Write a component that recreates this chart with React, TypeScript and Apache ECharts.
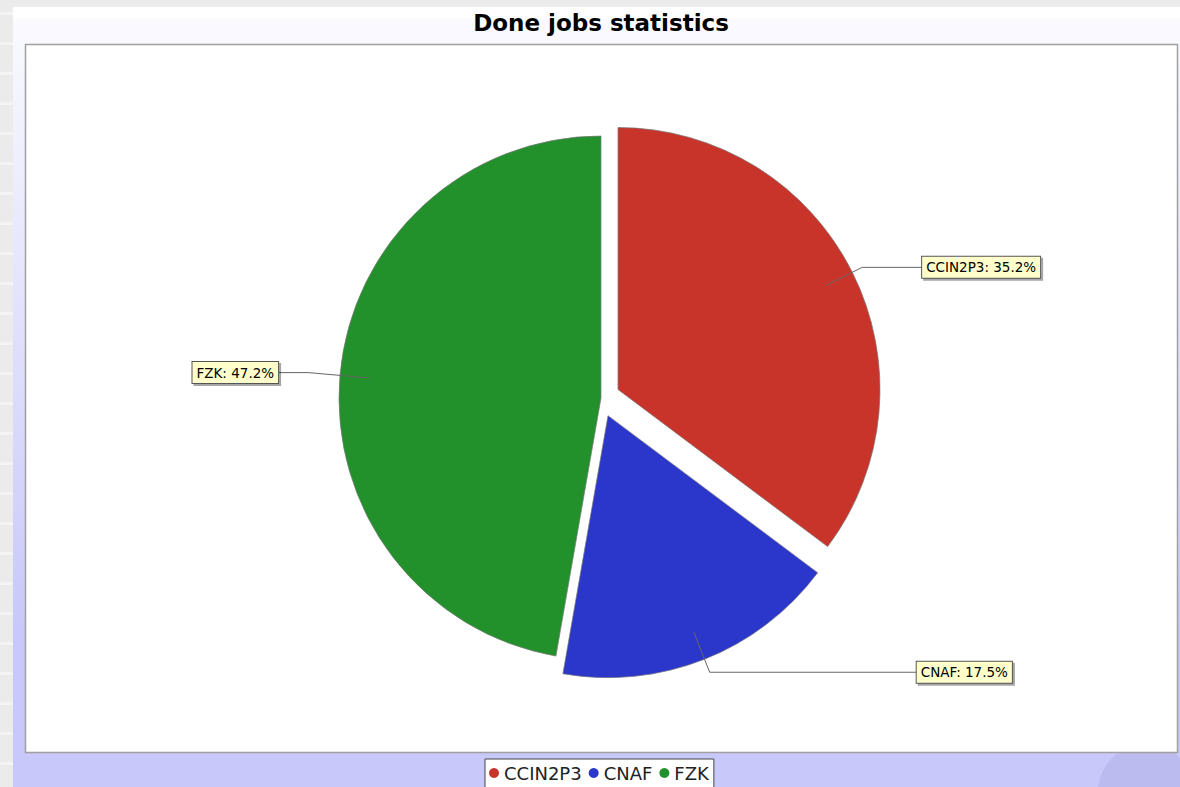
import React, { useEffect, useRef } from "react";
import * as echarts from "echarts";

// ---- data ----
const categories = ["CCIN2P3", "CNAF", "FZK"];
const shares = [35.2, 17.5, 47.2];
const explodedSlices = ["CCIN2P3", "CNAF"];
const titleText = "Done jobs statistics";

// ---- styles ----
const sliceColors = ["#c9342a", "#2b36ca", "#22912b"];
const labelLines: Record<string, { length: number; length2: number }> = {
  CCIN2P3: { length: 40, length2: 60 },
  CNAF: { length: 43, length2: 207 },
  FZK: { length: 61, length2: 30 },
};
const FONT = "DejaVu Sans";

export default function App() {
  const ref = useRef<HTMLDivElement>(null);

  useEffect(() => {
    if (!ref.current) return;
    const chart = echarts.init(ref.current, undefined, { renderer: "svg" });

    const stripes = Array.from({ length: 27 }, (_, i) => ({
      type: "rect",
      z: -20,
      shape: { x: 0, y: 12 + i * 30, width: 13, height: 3 },
      style: { fill: "#f4f4f4" },
      silent: true,
    }));

    const center = [601, 398];
    const radius = 262;
    const offset = 19;

    const mainData = categories.map((name, i) => ({
      name,
      value: shares[i],
      selected: explodedSlices.includes(name),
      itemStyle: { color: sliceColors[i] },
    }));

    const labelData = categories.map((name, i) => ({
      name,
      value: shares[i],
      selected: explodedSlices.includes(name),
      labelLine: labelLines[name],
    }));

    chart.setOption({
      animation: false,
      graphic: [
        {
          type: "rect",
          z: -30,
          shape: { x: 0, y: 0, width: 1180, height: 787 },
          style: { fill: "#ebebeb" },
          silent: true,
        },
        ...stripes,
        {
          type: "rect",
          z: -10,
          shape: { x: 13, y: 7, width: 1167, height: 780 },
          style: {
            fill: new echarts.graphic.LinearGradient(0, 0, 0, 1, [
              { offset: 0, color: "#ffffff" },
              { offset: 0.014, color: "#ffffff" },
              { offset: 0.016, color: "#fafaff" },
              { offset: 0.8, color: "#c8c8fa" },
              { offset: 1, color: "#c8c8fa" },
            ]),
          },
          silent: true,
        },
        {
          type: "circle",
          z: -9,
          shape: { cx: 1146, cy: 792, r: 48 },
          style: { fill: "rgba(140,140,205,0.22)" },
          silent: true,
        },
        {
          type: "rect",
          z: -8,
          shape: { x: 25.5, y: 44.5, width: 1152, height: 708 },
          style: { fill: "#ffffff", stroke: "#a0a0a0", lineWidth: 1.5 },
          silent: true,
        },
      ],
      title: {
        text: titleText,
        left: 601,
        top: 11,
        textAlign: "center",
        padding: 0,
        textStyle: {
          fontFamily: FONT,
          fontWeight: "bold",
          fontSize: 23,
          color: "#000",
        },
      },
      legend: {
        left: 485,
        top: 759,
        orient: "horizontal",
        backgroundColor: "#ffffff",
        borderColor: "#444",
        borderWidth: 1,
        borderRadius: 0,
        padding: [5, 5, 14, 4],
        itemGap: 7,
        itemWidth: 10,
        itemHeight: 11,
        icon: "circle",
        itemStyle: { borderWidth: 0 },
        textStyle: { fontFamily: FONT, fontSize: 18, color: "#222" },
        data: categories.map((name, i) => ({
          name,
          itemStyle: { color: sliceColors[i] },
        })),
      },
      series: [
        {
          name: "Done jobs",
          type: "pie",
          center,
          radius,
          startAngle: 90,
          clockwise: true,
          selectedMode: "multiple",
          selectedOffset: offset,
          avoidLabelOverlap: false,
          silent: true,
          z: 2,
          label: { show: false },
          labelLine: { show: false },
          emphasis: { disabled: true },
          itemStyle: { borderColor: "rgba(120,120,120,0.7)", borderWidth: 1 },
          data: mainData,
        },
        {
          name: "labels",
          type: "pie",
          center,
          radius: 233,
          startAngle: 90,
          clockwise: true,
          selectedMode: "multiple",
          selectedOffset: offset,
          avoidLabelOverlap: false,
          silent: true,
          z: 5,
          emphasis: { disabled: true },
          itemStyle: { color: "rgba(0,0,0,0)", borderWidth: 0 },
          label: {
            show: true,
            position: "outside",
            alignTo: "none",
            distanceToLabelLine: 0,
            formatter: "{b}: {c}%",
            fontFamily: FONT,
            fontSize: 13.5,
            color: "#000",
            backgroundColor: "#ffffcc",
            borderColor: "#555",
            borderWidth: 1,
            padding: [4, 4, 3, 4],
            shadowColor: "rgba(0,0,0,0.35)",
            shadowOffsetX: 2,
            shadowOffsetY: 2,
            shadowBlur: 1,
          },
          labelLine: {
            show: true,
            smooth: false,
            lineStyle: { color: "#666", width: 1 },
          },
          data: labelData,
        },
      ],
    });

    return () => chart.dispose();
  }, []);

  return (
    <div
      ref={ref}
      style={{ position: "absolute", left: 0, top: 0, width: 1180, height: 787 }}
    />
  );
}
